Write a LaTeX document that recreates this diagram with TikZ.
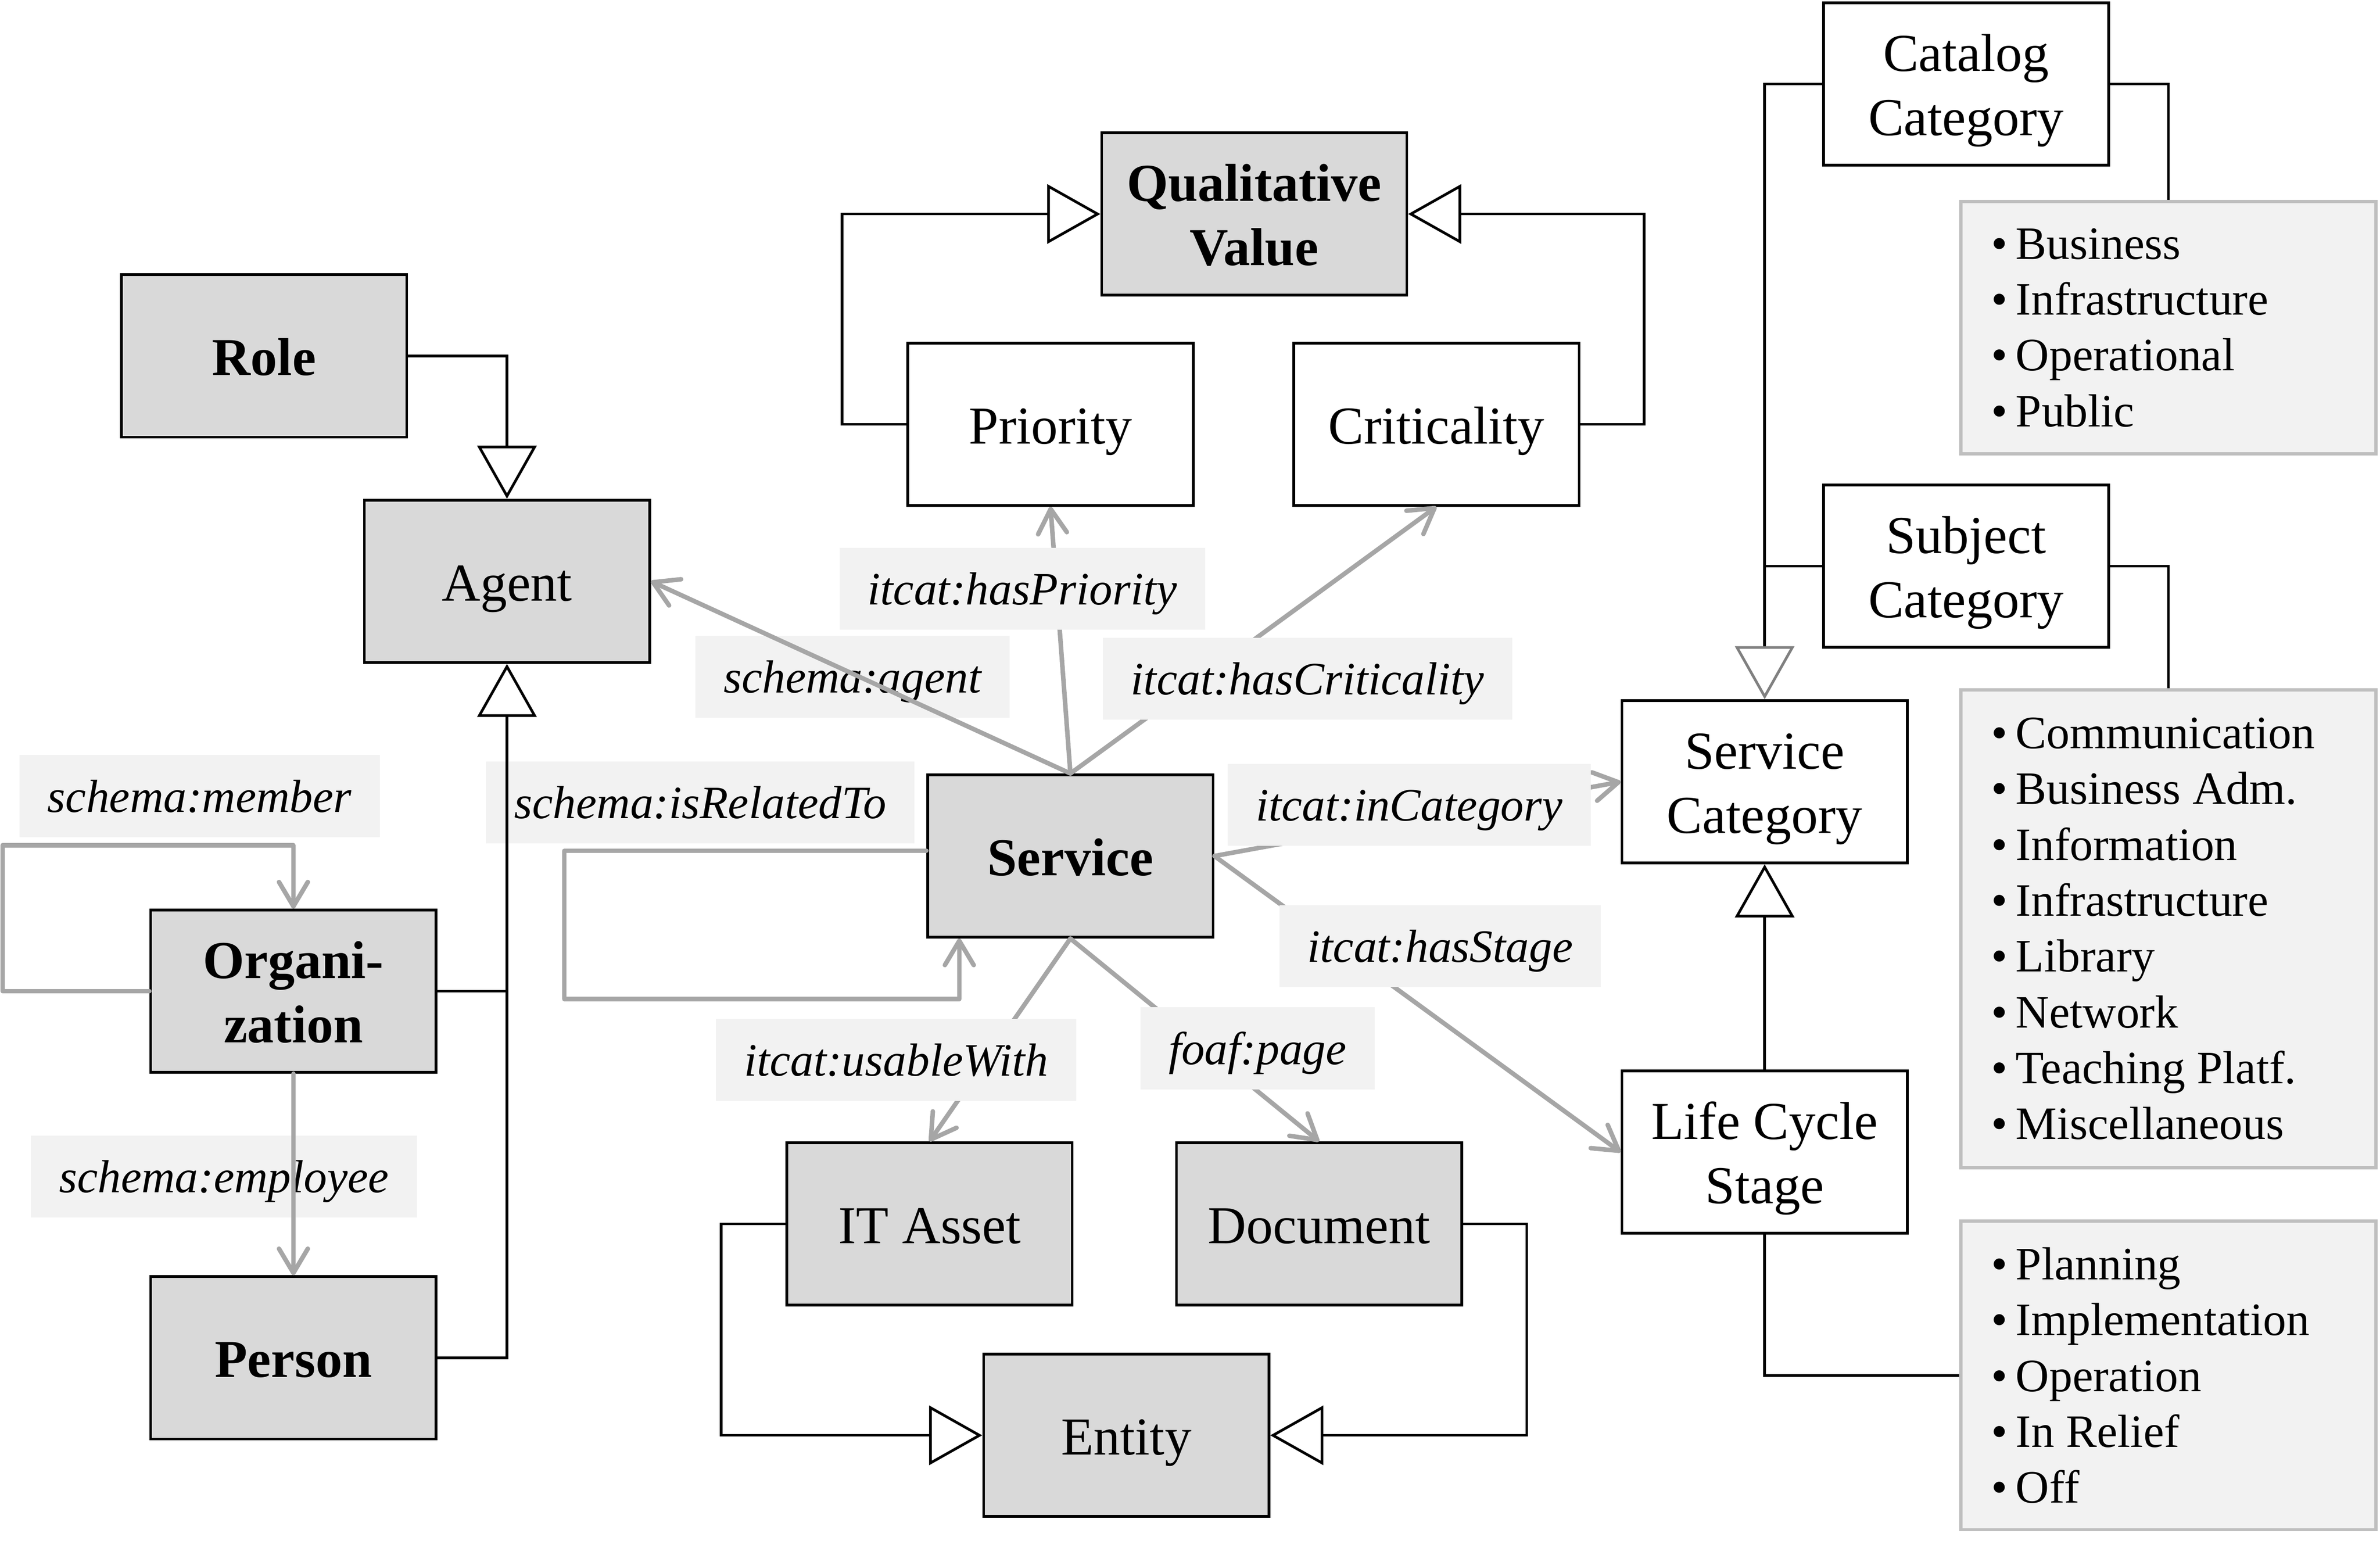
\documentclass[tikz,border=0pt]{standalone}
\usepackage{fontspec}
\setmainfont{Liberation Serif}
\usetikzlibrary{arrows.meta}

\newcommand{\bul}{•\kern.55mm}

\begin{document}
\begin{tikzpicture}[
            x=0.1mm, y=-0.1mm,
            cls/.style={rectangle, draw=black, line width=0.5pt, minimum width=18.8mm, minimum height=10.7mm, inner sep=0pt, align=flush center, font=\fontsize{10}{12}\selectfont, text height=2.56mm, text depth=0pt},
            cls_gray/.style={cls, fill=black!15},
            cls_bold/.style={cls_gray, font=\fontsize{10}{12}\selectfont\bfseries},
            two_lines/.style={text height=6.76mm, text depth=0pt},
            val_list/.style={rectangle, draw=black!25, line width=0.6pt, fill=black!5, inner xsep=2mm, inner ysep=0pt, text width=23.34mm, align=flush left, font=\fontsize{8.7}{10.47}\selectfont},
            prop_label/.style={rectangle, fill=black!5, inner xsep=1.85mm, inner ysep=0pt, minimum height=5.4mm, font=\fontsize{8.7}{10.5}\selectfont\itshape, text height=2.1mm, text depth=0pt},
            rel_edge/.style={draw=black!35, line width=0.85pt, line cap=round, line join=round, -{Straight Barb[length=1.6mm,width=1.9mm,round]}},
            isa_edge/.style={draw=black, line width=0.5pt, -{Triangle[open,length=3.5mm,width=3.9mm]}},
            isa_gray/.style={isa_edge, -{Triangle[open,length=3.5mm,width=3.9mm,color=black!50]}},
            link_edge/.style={draw=black, line width=0.5pt}
        ]
        \useasboundingbox (0,0) rectangle (1568,1017);

        % Agent side
        \node[cls_bold] (role) at (174, 234.5) {Role};
        \node[cls_gray] (agent) at (334, 383) {Agent};
        \node[cls_bold, two_lines] (org) at (193.3, 653) {Organi-\\zation};
        \node[cls_bold] (person) at (193.3, 894.6) {Person};

        % Qualitative values
        \node[cls_bold, two_lines, minimum width=20.1mm] (qv) at (826.3, 141) {Qualitative\\Value};
        \node[cls] (priority) at (692.1, 279.5) {Priority};
        \node[cls] (criticality) at (946.3, 279.5) {Criticality};

        % Service and entities
        \node[cls_bold] (service) at (705.2, 564) {Service};
        \node[cls_gray] (itasset) at (612.4, 806.4) {IT Asset};
        \node[cls_gray] (document) at (869, 806.4) {Document};
        \node[cls_gray] (entity) at (742, 945.7) {Entity};

        % Categories
        \node[cls, two_lines] (catcat) at (1295.3, 55.4) {Catalog\\Category};
        \node[cls, two_lines] (subcat) at (1295.3, 373) {Subject\\Category};
        \node[cls, two_lines] (servcat) at (1162.6, 515.1) {Service\\Category};
        \node[cls, two_lines] (lcs) at (1162.6, 759.1) {Life Cycle\\Stage};

        % Value lists
        \node[val_list, minimum height=16.63mm] (list_cat) at (1428.6, 215.9) {\bul Business\\\bul Infrastructure\\\bul Operational\\\bul Public};
        \node[val_list, minimum height=31.49mm] (list_sub) at (1428.6, 611.9) {\bul Communication\\\bul Business Adm.\\\bul Information\\\bul Infrastructure\\\bul Library\\\bul Network\\\bul Teaching Platf.\\\bul Miscellaneous};
        \node[val_list, minimum height=20.34mm] (list_stage) at (1428.6, 906.2) {\bul Planning\\\bul Implementation\\\bul Operation\\\bul In Relief\\\bul Off};

        % Properties hidden behind their labels
        \draw[rel_edge] (service.north) -- (priority.south);
        \draw[rel_edge] (service.north) -- (criticality.south);
        \draw[rel_edge] (service.east) -- (servcat.west);
        \draw[rel_edge] (service.east) -- (lcs.west);
        \draw[rel_edge] (service.south) -- (itasset.north);
        \draw[rel_edge] (service.south) -- (document.north);
        \draw[rel_edge] ([yshift=.35mm]service.west) -- ++(-238.5,0) -- ++(0,97.8) -| ([xshift=-7.32mm]service.south);
        \draw[rel_edge] (org.west) -- ++(-96.7,0) -- ++(0,-96) -| (org.north);

        % Property labels
        \node[prop_label] (l_member) at (131.5, 524.5) {schema:member};
        \node[prop_label] (l_employee) at (147.6, 775.3) {schema:employee};
        \node[prop_label] (l_agent) at (561.6, 445.8) {schema:agent};
        \node[prop_label] (l_priority) at (673.5, 388) {itcat:hasPriority};
        \node[prop_label] (l_crit) at (861.4, 447.2) {itcat:hasCriticality};
        \node[prop_label] (l_related) at (461.4, 528.6) {schema:isRelatedTo};
        \node[prop_label] (l_category) at (928.4, 530.2) {itcat:inCategory};
        \node[prop_label] (l_stage) at (948.8, 623.5) {itcat:hasStage};
        \node[prop_label] (l_usable) at (590.4, 698.3) {itcat:usableWith};
        \node[prop_label] (l_page) at (828.5, 690.7) {foaf:page};

        % Properties drawn over their labels
        \draw[rel_edge] (service.north) -- (agent.east);
        \draw[rel_edge] (org.south) -- (person.north);

        % Subclass links
        \draw[isa_edge] (role.east) -| (agent.north);
        \draw[isa_edge] (person.east) -| (agent.south);
        \draw[link_edge] (org.east) -- (org.east -| agent.south);
        \draw[isa_edge] (priority.west) -- ++(-42.5,0) |- (qv.west);
        \draw[isa_edge] (criticality.east) -- ++(42,0) |- (qv.east);
        \draw[isa_edge] (itasset.west) -- ++(-42.5,0) |- (entity.west);
        \draw[isa_edge] (document.east) -- ++(42,0) |- (entity.east);
        \draw[isa_gray] (catcat.west) -| (servcat.north);
        \draw[link_edge] (subcat.west) -- (subcat.west -| servcat.north);
        \draw[isa_edge] (lcs.north) -- (servcat.south);

        % Category values
        \draw[link_edge] (catcat.east) -| (list_cat.north);
        \draw[link_edge] (subcat.east) -| (list_sub.north);
        \draw[link_edge] (lcs.south) |- (list_stage.west);

    \end{tikzpicture}
\end{document}
